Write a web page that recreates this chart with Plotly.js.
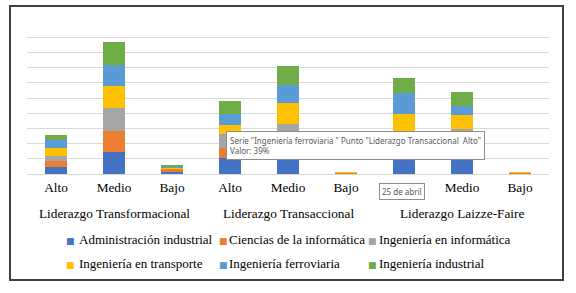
<!DOCTYPE html>
<html>
<head>
<meta charset="utf-8">
<script src="https://cdn.plot.ly/plotly-3.0.1.min.js"></script>
<style>html,body{margin:0;padding:0;background:#fff;}#chart{width:576px;height:293px;}</style>
</head>
<body>
<div id="chart"></div>
<script>
// Categories
const groups = ['Liderazgo Transformacional', 'Liderazgo Transaccional', 'Liderazgo Laizze-Faire'];
const levels = ['Alto', 'Medio', 'Bajo'];

// Series values (%), order: Transformacional Alto/Medio/Bajo, Transaccional Alto/Medio/Bajo, Laizze-Faire Alto/Medio/Bajo
const seriesNames = ['Administración industrial', 'Ciencias de la informática', 'Ingeniería en informática',
                     'Ingeniería en transporte', 'Ingeniería ferroviaria', 'Ingeniería industrial'];
const administracion = [23, 71, 5,   52, 48, 0,   53, 53, 0];
const ciencias       = [20, 72, 10,  33, 65, 2,   2, 79, 4];
const informatica    = [17, 73, 2,   45, 53, 2,   84, 16, 0];
const transporte     = [24, 73, 4,   30, 67, 3,   58, 46, 3];
const ferroviaria    = [27, 71, 2,   39, 61, 0,   69, 30, 0];
const industrial     = [16, 75, 7,   40, 61, 0,   49, 47, 0];
const seriesValues = [administracion, ciencias, informatica, transporte, ferroviaria, industrial];
const seriesColors = ['#4472C4', '#ED7D31', '#A5A5A5', '#FFC000', '#5B9BD5', '#70AD47'];

// Tooltip texts seen in the picture
const tooltipText = 'Serie "Ingeniería ferroviaria " Punto "Liderazgo Transaccional  Alto"<br>Valor: 39%';
const dateText = '25 de abril';

const tickLabels = [];
groups.forEach(() => levels.forEach(l => tickLabels.push(l)));
const xs = tickLabels.map((_, i) => i);

const traces = seriesNames.map((name, k) => ({
  type: 'bar',
  name: name,
  x: xs,
  y: seriesValues[k],
  marker: {color: seriesColors[k], line: {width: 0}},
  hoverinfo: 'none',
  showlegend: false
}));

const serif = 'Liberation Serif';
const fs = 13.3;
const legFs = 13;

const annotations = groups.map((g, i) => ({
  text: g,
  x: i * levels.length + 1,
  xref: 'x',
  y: -0.257,
  yref: 'paper',
  yanchor: 'middle',
  showarrow: false,
  font: {family: serif, size: fs, color: '#000'}
}));

// Legend (3 columns x 2 rows) drawn as annotations
const legMarkerX = [0.0833, 0.3764, 0.661];
const legTextX = [0.0958, 0.3831, 0.6705];
const legRowY = [-0.434, -0.592];
seriesNames.forEach((name, k) => {
  const col = k % 3, row = Math.floor(k / 3);
  annotations.push({
    text: '■', xref: 'paper', yref: 'paper',
    x: legMarkerX[col], y: legRowY[row] - 0.005,
    xanchor: 'center', yanchor: 'middle', showarrow: false,
    font: {family: 'DejaVu Sans', size: 9, color: seriesColors[k]}
  });
  annotations.push({
    text: name, xref: 'paper', yref: 'paper',
    x: legTextX[col], y: legRowY[row],
    xanchor: 'left', yanchor: 'middle', showarrow: false,
    font: {family: serif, size: legFs, color: '#000'}
  });
});

annotations.push({
  text: tooltipText,
  xref: 'paper', yref: 'paper',
  x: 0.381, y: 0.28,
  xanchor: 'left', yanchor: 'top',
  align: 'left',
  showarrow: false,
  bgcolor: '#ffffff',
  bordercolor: '#8c8c8c',
  borderwidth: 1,
  borderpad: 3,
  font: {family: 'Noto Sans', size: 8, color: '#595959'}
});
annotations.push({
  text: dateText,
  xref: 'paper', yref: 'paper',
  x: 0.718, y: -0.112,
  xanchor: 'center', yanchor: 'middle',
  showarrow: false,
  bgcolor: '#ffffff',
  bordercolor: '#8c8c8c',
  borderwidth: 1,
  borderpad: 2,
  font: {family: 'Noto Sans', size: 8, color: '#595959'}
});

const layout = {
  width: 576,
  height: 293,
  margin: {l: 27, r: 27, t: 22, b: 119},
  paper_bgcolor: '#ffffff',
  plot_bgcolor: '#ffffff',
  barmode: 'stack',
  bargap: 0.62,
  showlegend: false,
  font: {family: serif, size: fs, color: '#000'},
  xaxis: {
    range: [-0.5, 8.5],
    tickmode: 'array',
    tickvals: xs,
    ticktext: tickLabels,
    showgrid: false,
    zeroline: false,
    showline: false,
    ticks: '',
    ticklabelstandoff: 4,
    tickfont: {family: serif, size: fs, color: '#000'},
    fixedrange: true
  },
  yaxis: {
    range: [0, 500],
    dtick: 50,
    showgrid: true,
    gridcolor: '#D9D9D9',
    gridwidth: 1,
    zeroline: true,
    zerolinecolor: '#D9D9D9',
    zerolinewidth: 1,
    showticklabels: false,
    ticks: '',
    fixedrange: true
  },
  shapes: [{
    type: 'rect',
    xref: 'paper', yref: 'paper',
    x0: -0.0326, x1: 1.0268,
    y0: -0.697, y1: 1.105,
    line: {color: '#404040', width: 2},
    fillcolor: 'rgba(0,0,0,0)'
  }],
  annotations: annotations
};

Plotly.newPlot('chart', traces, layout, {staticPlot: true, displayModeBar: false});
</script>
</body>
</html>
